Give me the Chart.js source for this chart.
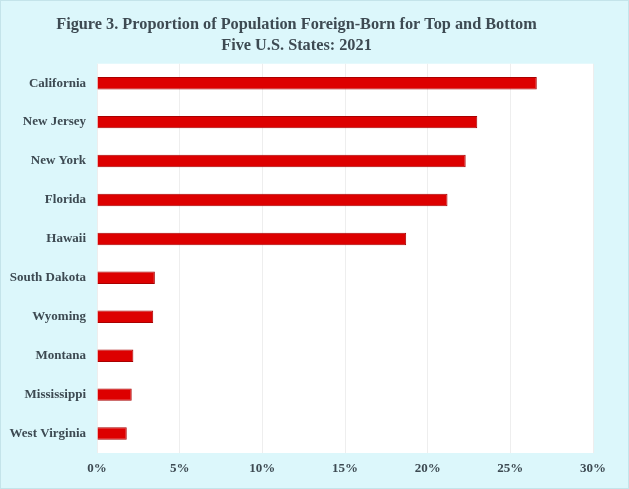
<!DOCTYPE html>
<html lang="en">
<head>
    <meta charset="UTF-8">
    <title>Proportion of Population Foreign-Born</title>
    <script src="https://cdn.jsdelivr.net/npm/chart.js"></script>
    <style>
        html, body {
            margin: 0;
            padding: 0;
            background: #dcf7fb;
        }
        .chart-container {
            width: 629px;
            height: 489px;
        }
    </style>
</head>
<body>
<div class="chart-container">
    <canvas id="foreignBornChart"></canvas>
</div>

<script>
    const states = ['California', 'New Jersey', 'New York', 'Florida', 'Hawaii',
        'South Dakota', 'Wyoming', 'Montana', 'Mississippi', 'West Virginia'];
    const foreignBorn = [26.6, 23.0, 22.3, 21.2, 18.7, 3.5, 3.4, 2.2, 2.1, 1.8];
    const xTicks = [0, 5, 10, 15, 20, 25, 30];

    const serif = '"Liberation Serif", "Times New Roman", serif';
    const textColor = '#3d4a52';

    // white plot area on the light blue page, plus a faint outer frame
    const plotBackground = {
        id: 'plotBackground',
        beforeDraw(chart) {
            const { ctx, chartArea } = chart;
            ctx.save();
            ctx.fillStyle = '#dcf7fb';
            ctx.fillRect(0, 0, chart.width, chart.height);
            ctx.strokeStyle = '#c4e4ea';
            ctx.lineWidth = 1;
            ctx.strokeRect(0.5, 0.5, chart.width - 1, chart.height - 1);
            ctx.fillStyle = '#ffffff';
            ctx.fillRect(chartArea.left, chartArea.top,
                chartArea.right - chartArea.left, chartArea.bottom - chartArea.top);
            ctx.restore();
        }
    };

    new Chart(document.getElementById('foreignBornChart'), {
        type: 'bar',
        data: {
            labels: states,
            datasets: [{
                data: foreignBorn,
                backgroundColor: '#dd0000',
                borderColor: '#a80000',
                borderWidth: 1,
                barPercentage: 0.64,
                categoryPercentage: 0.5
            }]
        },
        options: {
            indexAxis: 'y',
            responsive: true,
            maintainAspectRatio: false,
            animation: false,
            layout: {
                padding: { left: 0, right: 36, top: 0, bottom: 0 }
            },
            plugins: {
                legend: { display: false },
                tooltip: { enabled: false },
                title: {
                    display: true,
                    text: ['Figure 3. Proportion of Population Foreign-Born for Top and Bottom',
                        'Five U.S. States: 2021'],
                    color: textColor,
                    font: { family: serif, size: 16.3, weight: 'bold', lineHeight: 1.25 },
                    padding: { top: 15, bottom: 8 }
                }
            },
            scales: {
                x: {
                    min: 0,
                    max: 30,
                    afterBuildTicks(axis) {
                        axis.ticks = xTicks.map(v => ({ value: v }));
                    },
                    afterFit(axis) {
                        axis.height = 36;
                    },
                    grid: {
                        color: '#eeeeee',
                        drawTicks: false
                    },
                    border: { display: false },
                    ticks: {
                        padding: 8,
                        color: textColor,
                        font: { family: serif, size: 13, weight: 'bold' },
                        callback: v => v + '%'
                    }
                },
                y: {
                    afterFit(axis) {
                        axis.width = 97;
                    },
                    grid: { display: false, drawTicks: false },
                    border: { display: false },
                    ticks: {
                        padding: 11,
                        color: textColor,
                        font: { family: serif, size: 13, weight: 'bold' }
                    }
                }
            }
        },
        plugins: [plotBackground]
    });
</script>
</body>
</html>
